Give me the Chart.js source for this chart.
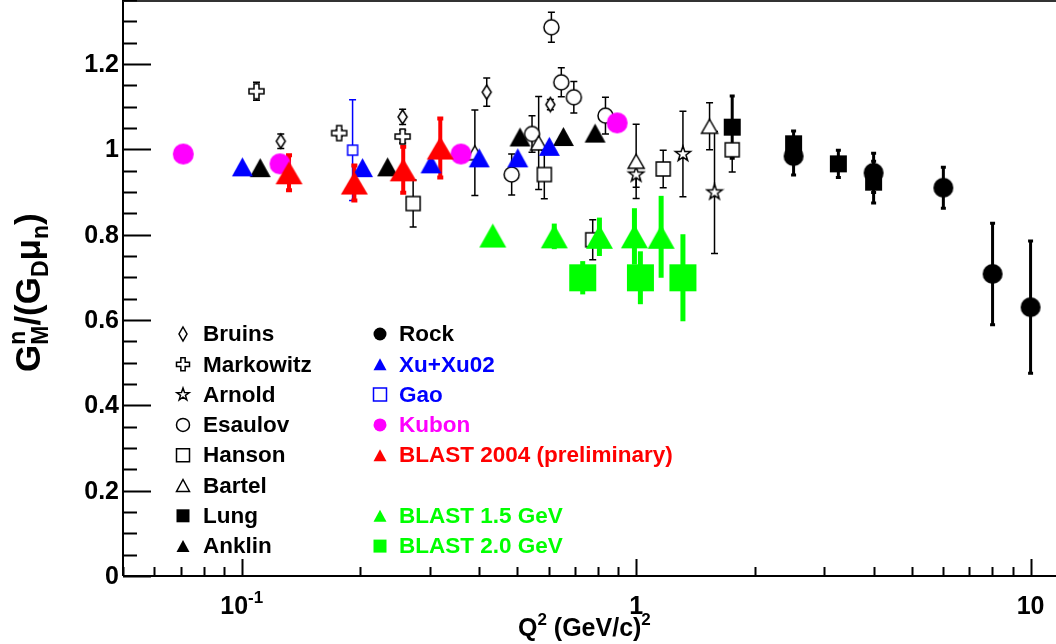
<!DOCTYPE html>
<html>
<head>
<meta charset="utf-8">
<script src="https://cdn.jsdelivr.net/npm/chart.js"></script>
<style>
  body { margin: 0; background: #fff; }
  #wrap { width: 1056px; height: 644px; }
</style>
</head>
<body>
<div id="wrap"><canvas id="gmnChart" width="1056" height="644"></canvas></div>
<script>
// ! data: Q2 in (GeV/c)^2, GMn/(GD mu_n), vertical error
const bruinsQ2 = [0.1256, 0.2558, 0.418, 0.606];
const bruinsG = [1.019, 1.076, 1.134, 1.105];
const bruinsErr = [0.017, 0.018, 0.033, 0.012];

const markowitzQ2 = [0.109, 0.1766, 0.2558];
const markowitzG = [1.136, 1.038, 1.030];
const markowitzErr = [0.021, 0.008, 0.015];

const arnoldQ2 = [1.0, 1.314, 1.58];
const arnoldG = [0.941, 0.989, 0.899];
const arnoldErr = [0.03, 0.1, 0.143];

const esaulovQ2 = [0.4835, 0.5445, 0.6097, 0.646, 0.695, 0.836];
const esaulovG = [0.941, 1.036, 1.286, 1.157, 1.122, 1.079];
const esaulovErr = [0.048, 0.043, 0.035, 0.034, 0.037, 0.043];

const hansonQ2 = [0.272, 0.585, 0.776, 1.171, 1.752];
const hansonG = [0.873, 0.941, 0.788, 0.954, 0.999];
const hansonErr = [0.055, 0.057, 0.047, 0.044, 0.052];

const bartelQ2 = [0.39, 0.566, 1.0, 1.535];
const bartelG = [0.992, 1.015, 0.972, 1.054];
const bartelErr = [0.1, 0.109, 0.087, 0.055];

const lungQ2 = [1.752, 2.507, 3.256, 4.0];
const lungG = [1.052, 1.013, 0.966, 0.923];
const lungErr = [0.073, 0.03, 0.032, 0.049];

const anklinQ2 = [0.1114, 0.2343, 0.5077, 0.654, 0.787];
const anklinG = [0.957, 0.959, 1.029, 1.030, 1.038];

const rockQ2 = [2.507, 4.0, 6.01, 8.01, 10.0];
const rockG = [0.984, 0.945, 0.910, 0.708, 0.630];
const rockErr = [0.044, 0.046, 0.048, 0.119, 0.155];

const xuQ2 = [0.1004, 0.2024, 0.302, 0.400, 0.501, 0.6025];
const xuG = [0.959, 0.957, 0.966, 0.980, 0.980, 1.007];

const gaoQ2 = [0.191];
const gaoG = [0.998];
const gaoErr = [0.118];

const kubonQ2 = [0.0711, 0.125, 0.3596, 0.895];
const kubonG = [0.989, 0.966, 0.989, 1.062];

const blast04Q2 = [0.1318, 0.193, 0.2567, 0.3187];
const blast04G = [0.945, 0.921, 0.952, 1.003];
const blast04Err = [0.041, 0.041, 0.054, 0.069];

const blast15Q2 = [0.433, 0.620, 0.807, 0.99, 1.157];
const blast15G = [0.798, 0.796, 0.795, 0.796, 0.795];
const blast15Err = [0.01, 0.03, 0.045, 0.066, 0.096];

const blast20Q2 = [0.732, 1.025, 1.314];
const blast20G = [0.699, 0.699, 0.699];
const blast20Err = [0.039, 0.062, 0.102];

// axis labels
const yTickValues = [0, 0.2, 0.4, 0.6, 0.8, 1, 1.2];
const yTickLabels = ['0', '0.2', '0.4', '0.6', '0.8', '1', '1.2'];
const xTickValues = [0.1, 1, 10];
const xTickLabels = ['10', '1', '10'];
const xTickExps = ['-1', '', ''];

const series = [
  ['Bruins', bruinsQ2, bruinsG, bruinsErr],
  ['Markowitz', markowitzQ2, markowitzG, markowitzErr],
  ['Arnold', arnoldQ2, arnoldG, arnoldErr],
  ['Esaulov', esaulovQ2, esaulovG, esaulovErr],
  ['Hanson', hansonQ2, hansonG, hansonErr],
  ['Bartel', bartelQ2, bartelG, bartelErr],
  ['Lung', lungQ2, lungG, lungErr],
  ['Anklin', anklinQ2, anklinG, null],
  ['Rock', rockQ2, rockG, rockErr],
  ['Xu+Xu02', xuQ2, xuG, null],
  ['Gao', gaoQ2, gaoG, gaoErr],
  ['Kubon', kubonQ2, kubonG, null],
  ['BLAST 2004 (preliminary)', blast04Q2, blast04G, blast04Err],
  ['BLAST 1.5 GeV', blast15Q2, blast15G, blast15Err],
  ['BLAST 2.0 GeV', blast20Q2, blast20G, blast20Err]
];

// marker looks (ROOT style)
const markers = {
  'Bruins': { kind: 'diamond', w: 9, h: 14, color: '#000', open: true },
  'Markowitz': { kind: 'cross', w: 15, color: '#000', open: true },
  'Arnold': { kind: 'star', w: 16, color: '#000', open: true },
  'Esaulov': { kind: 'circle', w: 15, color: '#000', open: true },
  'Hanson': { kind: 'square', w: 14, color: '#000', open: true },
  'Bartel': { kind: 'triangle', w: 16, h: 14, color: '#000', open: true },
  'Lung': { kind: 'square', w: 17, color: '#000' },
  'Anklin': { kind: 'triangle', w: 21, h: 19, color: '#000' },
  'Rock': { kind: 'circle', w: 20, color: '#000' },
  'Xu+Xu02': { kind: 'triangle', w: 21, h: 19, color: '#0000ff' },
  'Gao': { kind: 'square', w: 10, color: '#0000ff', open: true },
  'Kubon': { kind: 'circle', w: 21, color: '#ff00ff' },
  'BLAST 2004 (preliminary)': { kind: 'triangle', w: 27, h: 23, color: '#ff0000' },
  'BLAST 1.5 GeV': { kind: 'triangle', w: 27, h: 24, color: '#00ff00' },
  'BLAST 2.0 GeV': { kind: 'square', w: 27, color: '#00ff00' }
};

const thinBar = { color: '#000', width: 1.5, cap: 7 };
const errStyles = {
  'Lung': { color: '#000', width: 3, cap: 5 },
  'Rock': { color: '#000', width: 3, cap: 5 },
  'Gao': { color: '#0000ff', width: 1.5, cap: 7 },
  'BLAST 2004 (preliminary)': { color: '#ff0000', width: 4, cap: 6 },
  'BLAST 1.5 GeV': { color: '#00ff00', width: 5, cap: 0 },
  'BLAST 2.0 GeV': { color: '#00ff00', width: 5, cap: 0 }
};

// [column, row] in the legend
const legendSlots = {
  'Bruins': [0, 0], 'Markowitz': [0, 1], 'Arnold': [0, 2], 'Esaulov': [0, 3],
  'Hanson': [0, 4], 'Bartel': [0, 5], 'Lung': [0, 6], 'Anklin': [0, 7],
  'Rock': [1, 0], 'Xu+Xu02': [1, 1], 'Gao': [1, 2], 'Kubon': [1, 3],
  'BLAST 2004 (preliminary)': [1, 4], 'BLAST 1.5 GeV': [1, 6], 'BLAST 2.0 GeV': [1, 7]
};

const FONT = '"Liberation Sans", Arial, Helvetica, sans-serif';

function markerPath(ctx, kind, x, y, w, h) {
  ctx.beginPath();
  if (kind === 'circle') {
    ctx.arc(x, y, w / 2, 0, Math.PI * 2);
  } else if (kind === 'square') {
    ctx.rect(x - w / 2, y - h / 2, w, h);
  } else if (kind === 'triangle') {
    ctx.moveTo(x, y - h / 2);
    ctx.lineTo(x + w / 2, y + h / 2);
    ctx.lineTo(x - w / 2, y + h / 2);
    ctx.closePath();
  } else if (kind === 'diamond') {
    ctx.moveTo(x, y - h / 2);
    ctx.lineTo(x + w / 2, y);
    ctx.lineTo(x, y + h / 2);
    ctx.lineTo(x - w / 2, y);
    ctx.closePath();
  } else if (kind === 'cross') {
    const a = w / 6, b = w / 2;
    const pts = [[-a, -b], [a, -b], [a, -a], [b, -a], [b, a], [a, a], [a, b], [-a, b], [-a, a], [-b, a], [-b, -a], [-a, -a]];
    pts.forEach((p, i) => i ? ctx.lineTo(x + p[0], y + p[1]) : ctx.moveTo(x + p[0], y + p[1]));
    ctx.closePath();
  } else if (kind === 'star') {
    for (let i = 0; i < 10; i++) {
      const r = i % 2 ? w * 0.2 : w / 2;
      const ang = -Math.PI / 2 + i * Math.PI / 5;
      const px = x + r * Math.cos(ang), py = y + r * Math.sin(ang);
      if (i) ctx.lineTo(px, py); else ctx.moveTo(px, py);
    }
    ctx.closePath();
  }
}

function drawMarker(ctx, m, x, y) {
  const h = m.h || m.w;
  markerPath(ctx, m.kind, x, y, m.w, h);
  if (m.open) {
    ctx.fillStyle = '#fff';
    ctx.fill();
    ctx.strokeStyle = m.color;
    ctx.lineWidth = 1.5;
    ctx.stroke();
  } else {
    ctx.fillStyle = m.color;
    ctx.fill();
  }
}

function markerCanvas(m) {
  const c = document.createElement('canvas');
  c.width = Math.ceil(m.w + 4);
  c.height = Math.ceil((m.h || m.w) + 4);
  drawMarker(c.getContext('2d'), m, c.width / 2, c.height / 2);
  return c;
}

const datasets = series.map(([label, q2, g, err], i) => ({
  label: label,
  data: q2.map((v, k) => ({ x: v, y: g[k] })),
  errors: err,
  errStyle: errStyles[label] || thinBar,
  marker: markers[label],
  pointStyle: markerCanvas(markers[label]),
  pointRadius: 8,
  showLine: false,
  order: series.length - i
}));

// ! error bars under the markers
const errorBars = {
  id: 'errorBars',
  beforeDatasetsDraw(chart) {
    const { ctx, scales: { x, y } } = chart;
    chart.data.datasets.forEach(ds => {
      if (!ds.errors) return;
      const st = ds.errStyle;
      ctx.save();
      ctx.strokeStyle = st.color;
      ctx.lineWidth = st.width;
      ds.data.forEach((p, i) => {
        const e = ds.errors[i];
        if (!e) return;
        const px = x.getPixelForValue(p.x);
        const top = y.getPixelForValue(p.y + e);
        const bot = y.getPixelForValue(p.y - e);
        ctx.beginPath();
        ctx.moveTo(px, top);
        ctx.lineTo(px, bot);
        if (st.cap) {
          ctx.moveTo(px - st.cap / 2, top); ctx.lineTo(px + st.cap / 2, top);
          ctx.moveTo(px - st.cap / 2, bot); ctx.lineTo(px + st.cap / 2, bot);
        }
        ctx.stroke();
      });
      ctx.restore();
    });
  }
};

function drawRich(ctx, parts, x, y) {
  let cx = x;
  parts.forEach(([t, size, dy, advance]) => {
    ctx.font = 'bold ' + size + 'px ' + FONT;
    ctx.fillText(t, cx, y + dy);
    if (advance !== false) cx += ctx.measureText(t).width;
  });
  return cx - x;
}

// ! frame, inward ticks, tick labels and titles
const axesFrame = {
  id: 'axesFrame',
  afterDraw(chart) {
    const { ctx, chartArea: a, scales: { x, y } } = chart;
    ctx.save();
    ctx.strokeStyle = '#000';
    ctx.lineWidth = 2;
    ctx.beginPath();
    ctx.moveTo(a.left, a.bottom); ctx.lineTo(a.right, a.bottom);
    ctx.moveTo(a.left, a.top); ctx.lineTo(a.left, a.bottom);
    ctx.stroke();
    ctx.strokeStyle = '#333';
    ctx.beginPath();
    ctx.moveTo(a.left, a.top + 1); ctx.lineTo(a.right, a.top + 1);
    ctx.stroke();

    // y ticks every 0.05, long ones every 0.2
    ctx.strokeStyle = '#000';
    ctx.lineWidth = 2;
    ctx.beginPath();
    for (let i = 0; i * 0.05 <= y.max + 1e-9; i++) {
      const py = Math.round(y.getPixelForValue(i * 0.05)) + 0.5;
      const len = i % 4 === 0 ? 28 : 14;
      ctx.moveTo(a.left, py); ctx.lineTo(a.left + len, py);
    }
    // x ticks: decades long, 2..9 short
    for (let d = -2; d <= 1; d++) {
      for (let k = 1; k <= 9; k++) {
        const v = k * Math.pow(10, d);
        if (v < x.min || v > x.max) continue;
        const px = Math.round(x.getPixelForValue(v)) + 0.5;
        const len = k === 1 ? 17 : 9;
        ctx.moveTo(px, a.bottom); ctx.lineTo(px, a.bottom - len);
      }
    }
    ctx.stroke();

    ctx.fillStyle = '#000';
    ctx.font = 'bold 25px ' + FONT;
    ctx.textAlign = 'right';
    ctx.textBaseline = 'middle';
    yTickValues.forEach((v, i) => ctx.fillText(yTickLabels[i], a.left - 4, y.getPixelForValue(v) + 1));

    ctx.textAlign = 'left';
    ctx.textBaseline = 'alphabetic';
    xTickValues.forEach((v, i) => {
      ctx.font = 'bold 25px ' + FONT;
      const w1 = ctx.measureText(xTickLabels[i]).width;
      ctx.font = 'bold 17px ' + FONT;
      const w2 = xTickExps[i] ? ctx.measureText(xTickExps[i]).width : 0;
      const x0 = x.getPixelForValue(v) - (w1 + w2) / 2;
      drawRich(ctx, [[xTickLabels[i], 25, 0], [xTickExps[i], 17, -11]], x0, 614);
    });

    // x title
    drawRich(ctx, [['Q', 25, 0], ['2', 17, -11], [' (GeV/c)', 25, 0], ['2', 17, -11]], 518, 636);

    // y title, rotated
    ctx.save();
    ctx.translate(40, 372);
    ctx.rotate(-Math.PI / 2);
    drawRich(ctx, [['G', 35, 0], ['n', 23, -15, false], ['M', 23, 8], ['/(G', 35, 0], ['D', 23, 8], ['\u03bc', 35, 0], ['n', 23, 8], [')', 35, 0]], 0, 0);
    ctx.restore();
    ctx.restore();
  }
};

// ! two column legend in the lower left
const legendBox = {
  id: 'legendBox',
  afterDraw(chart) {
    const ctx = chart.ctx;
    ctx.save();
    ctx.textAlign = 'left';
    ctx.textBaseline = 'middle';
    chart.data.datasets.forEach(ds => {
      const slot = legendSlots[ds.label];
      if (!slot) return;
      const m = ds.marker;
      const ly = 334 + slot[1] * 30.3;
      const mx = slot[0] ? 380 : 183;
      const small = Object.assign({}, m, {
        w: m.kind === 'diamond' ? 8 : 13,
        h: m.kind === 'diamond' ? 14 : (m.kind === 'triangle' ? 12 : 13)
      });
      drawMarker(ctx, small, mx, ly);
      ctx.fillStyle = m.color;
      ctx.font = 'bold 22.5px ' + FONT;
      ctx.fillText(ds.label, slot[0] ? 399 : 203, ly + 1);
    });
    ctx.restore();
  }
};

const gmnChart = new Chart(document.getElementById('gmnChart'), {
  type: 'scatter',
  data: { datasets: datasets },
  options: {
    responsive: false,
    animation: false,
    layout: { autoPadding: false, padding: { left: 123, right: 0, top: 0, bottom: 68 } },
    scales: {
      x: { type: 'logarithmic', min: 0.05, max: 11.6, display: false },
      y: { type: 'linear', min: 0, max: 1.35, display: false }
    },
    plugins: {
      legend: { display: false },
      tooltip: { enabled: false }
    }
  },
  plugins: [errorBars, axesFrame, legendBox]
});
</script>
</body>
</html>
